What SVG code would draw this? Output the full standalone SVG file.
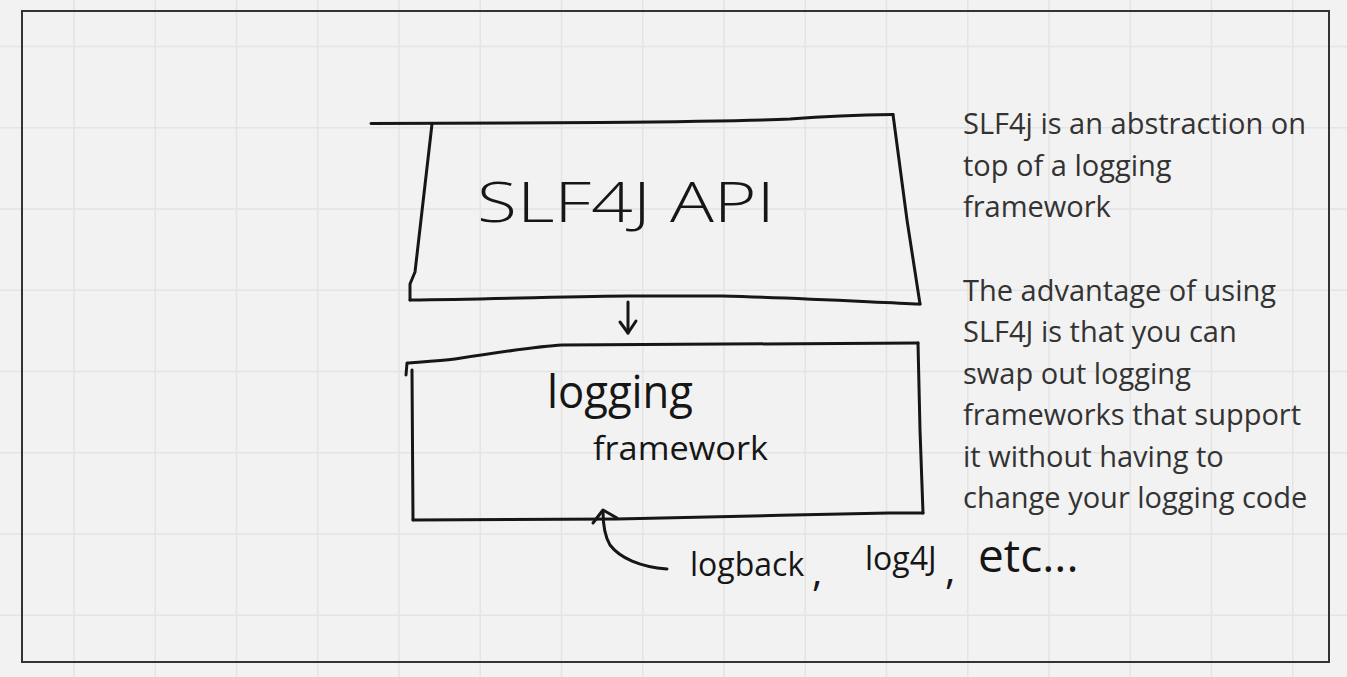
<svg xmlns="http://www.w3.org/2000/svg" width="1347" height="677" viewBox="0 0 1347 677">
<style>
.grid{stroke:#e4e4e4;stroke-width:1.5;fill:none}
.frame{fill:none;stroke:#333;stroke-width:2}
.ink{fill:none;stroke:#161616;stroke-width:3;stroke-linecap:round;stroke-linejoin:round}
.note{font-family:"Open Sans","Noto Sans",sans-serif;font-size:29px;fill:#333}
.hand{font-family:"Open Sans","DejaVu Sans",sans-serif;fill:#161616;font-weight:400}
.light{font-weight:300}
</style>
<rect x="0" y="0" width="1347" height="677" fill="#f2f2f2"/>
<g id="grid">
<path class="grid" d="M74,0V677M155.25,0V677M236.5,0V677M317.75,0V677M399,0V677M480.25,0V677M561.5,0V677M642.75,0V677M724,0V677M805.25,0V677M886.5,0V677M967.75,0V677M1049,0V677M1130.25,0V677M1211.5,0V677M1292.75,0V677M0,46.5H1347M0,127.75H1347M0,209H1347M0,290.25H1347M0,371.5H1347M0,452.75H1347M0,534H1347M0,615.25H1347"/>
</g>
<rect class="frame" x="22" y="11" width="1307" height="651"/>
<g id="node-slf4j-api">
<path class="ink" d="M371,123.5 L600,122.5 C700,121.5 760,120.5 790,119 C830,116 860,115 893,114.5"/>
<path class="ink" d="M432,124 L415,272 L410,284 L410,300"/>
<path class="ink" d="M410,300 C500,299 580,296 630,296 L722,296 C800,298 870,302 920,304"/>
<path class="ink" d="M893,114.5 L907,220 L920,304"/>
<text class="hand light" x="477" y="222" font-size="56" textLength="298" lengthAdjust="spacingAndGlyphs">SLF4J API</text>
</g>
<g id="node-logging-framework">
<path class="ink" d="M406,375 L407,363 C420,362 440,361 455,359 C500,352 540,346 562,345 L918,343"/>
<path class="ink" d="M918,343 L920,430 L923,513"/>
<path class="ink" d="M923,513 L889,513 C800,515 700,517 617,519 L413,520"/>
<path class="ink" d="M412,370 L413,520"/>
<text class="hand" x="547" y="408" font-size="46" textLength="146" lengthAdjust="spacingAndGlyphs">logging</text>
<text class="hand" x="593" y="460" font-size="32" textLength="175" lengthAdjust="spacingAndGlyphs">framework</text>
</g>
<g id="node-implementations">
<text class="hand" x="690" y="576" font-size="32">logback</text>
<text class="hand" x="812" y="586" font-size="40">,</text>
<text class="hand" x="865" y="570" font-size="32">log4J</text>
<text class="hand" x="945" y="584" font-size="40">,</text>
<text class="hand" x="978" y="572" font-size="46">etc...</text>
</g>
<g id="node-notes">
<text class="note"><tspan x="963" y="134">SLF4j is an abstraction on</tspan><tspan x="963" y="175.5">top of a logging</tspan><tspan x="963" y="217">framework</tspan><tspan x="963" y="300.5">The advantage of using</tspan><tspan x="963" y="342">SLF4J is that you can</tspan><tspan x="963" y="383.5">swap out logging</tspan><tspan x="963" y="425">frameworks that support</tspan><tspan x="963" y="466.5">it without having to</tspan><tspan x="963" y="508">change your logging code</tspan></text>
</g>
<g id="connectors">
<path class="ink" d="M628,302 L628,333"/>
<path class="ink" d="M620,322 L628,333 L636,321"/>
<path class="ink" d="M667,569 C640,567 620,558 610,545 C604,535 603,520 603,511"/>
<path class="ink" d="M593,523 L603,510 L617,518"/>
</g>
</svg>
